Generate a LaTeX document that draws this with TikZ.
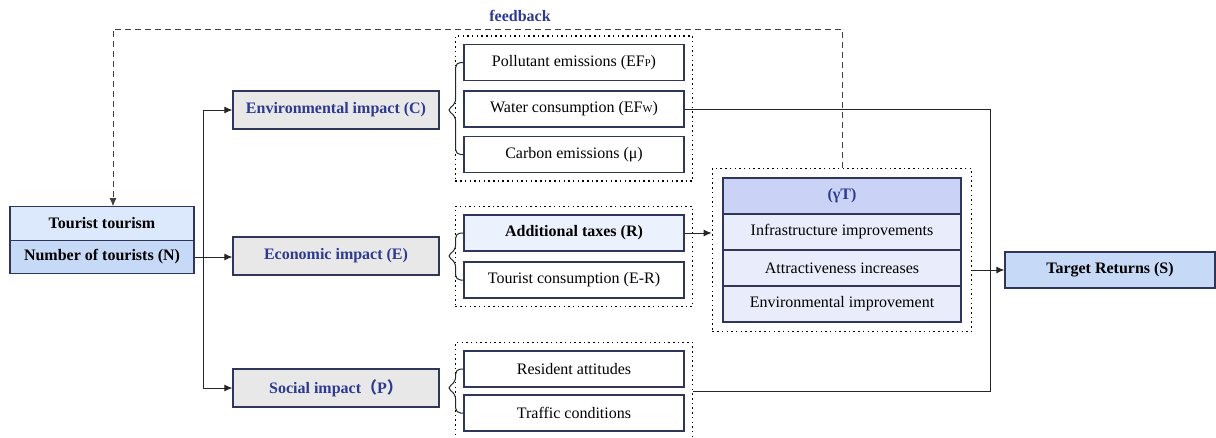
\documentclass[tikz,border=0pt]{standalone}
\usepackage{fontspec}
\setmainfont{Liberation Serif}
\newfontfamily\cjk{Noto Sans CJK SC}
\usepackage{tikz}
\usetikzlibrary{calc}
\usetikzlibrary{fit}
\usetikzlibrary{arrows.meta}
\definecolor{boxline}{HTML}{2F3659}
\definecolor{titleblue}{HTML}{2E3A8F}
\definecolor{impactgray}{HTML}{E8E8E8}
\definecolor{lightblue}{HTML}{DCE8FC}
\definecolor{midblue}{HTML}{C6D9F7}
\definecolor{taxblue}{HTML}{EBF2FE}
\definecolor{gammablue}{HTML}{CAD3F6}
\definecolor{rowblue}{HTML}{E9EDFB}
\newcommand{\basefont}{\fontsize{16}{19}\selectfont}
\tikzset{
	% Boxes: impact boxes, item boxes and the rows of the (gamma T) stack
	impact box/.style={draw=boxline,fill=impactgray,line width=1.2pt,minimum width=206pt,minimum height=38pt,text=titleblue,font=\basefont\bfseries},
	item box/.style={draw=boxline,fill=white,line width=1.2pt,minimum width=220pt,minimum height=36pt},
	row box/.style={draw=boxline,fill=rowblue,line width=1.2pt,minimum width=238pt,minimum height=36pt},
	% Dotted frames round each group of boxes
	dotted frame/.style={draw,dash pattern=on 1.5pt off 3.2pt,line width=1.5pt,inner sep=8pt},
	link/.style={line width=1pt,draw=black!85},
	arrow link/.style={link,-{Latex[length=8pt,width=7pt]}}
}

\begin{document}
\begin{tikzpicture}[x=1pt,y=-1pt,font=\basefont]
	% macro for the braces between an impact box and its items
	\newcommand{\joinbrace}[3]{\draw[link,rounded corners=5pt] (#1.west) -| ($(#3.east)+(16,-6)$) -- ($(#3.east)+(7,0)$) -- ($(#3.east)+(16,6)$) |- (#2.west);}
	\useasboundingbox (0,0) rectangle (1216,437);
	
	% source
	\node(tour)[draw=boxline,fill=lightblue,line width=1.2pt,minimum width=184pt,minimum height=33.5pt,font=\basefont\bfseries] at (102,223.5){Tourist tourism};
	\node(num)[draw=boxline,fill=midblue,line width=1.2pt,minimum width=184pt,minimum height=33.5pt,font=\basefont\bfseries] at (102,257){Number of tourists (N)};
	
	% impacts
	\node(env)[impact box] at (336,110){Environmental impact (C)};
	\node(eco)[impact box] at (336,256){Economic impact (E)};
	\node(soc)[impact box] at (336,388){Social impact{\cjk（}P{\cjk）}};
	
	% items
	\node(pol)[item box] at (574,62.5){Pollutant emissions (EF{\fontsize{10.5}{10}\selectfont P})};
	\node(wat)[item box] at (574,109){Water consumption (EF{\fontsize{10.5}{10}\selectfont W})};
	\node(car)[item box] at (574,154.5){Carbon emissions (μ)};
	\node(tax)[item box,fill=taxblue,font=\basefont\bfseries] at (574,233){Additional taxes (R)};
	\node(con)[item box] at (574,280){Tourist consumption (E-R)};
	\node(res)[item box] at (574,369){Resident attitudes};
	\node(tra)[item box] at (574,413){Traffic conditions};
	
	% (gamma T) stack
	\node(gam)[row box,fill=gammablue,text=titleblue,font=\basefont\bfseries] at (842,196){(γT)};
	\node(inf)[row box] at (842,232){Infrastructure improvements};
	\node(att)[row box] at (842,268){Attractiveness increases};
	\node(imp)[row box] at (842,304){Environmental improvement};
	
	\node(tgt)[draw=boxline,fill=midblue,line width=1.2pt,minimum width=210pt,minimum height=36pt,font=\basefont\bfseries] at (1110,270){Target Returns (S)};
	
	% frames
	\node(env-frame)[dotted frame,fit=(pol)(car)]{};
	\node(eco-frame)[dotted frame,fit=(tax)(con)]{};
	\node(soc-frame)[dotted frame,fit=(res)(tra)]{};
	\node(mid-frame)[dotted frame,inner xsep=10pt,inner ysep=9pt,fit=(gam)(imp)]{};
	
	% connectors
	\coordinate(split) at (203,257);
	\draw[arrow link] (num.east) -- (num.east -| eco.west);
	\draw[arrow link] (split) |- (env.west);
	\draw[arrow link] (split) |- (soc.west);
	
	\joinbrace{pol}{car}{env}
	\joinbrace{tax}{con}{eco}
	\joinbrace{res}{tra}{soc}
	
	\draw[arrow link] (tax.east) -- (tax.east -| mid-frame.west);
	
	\coordinate(join) at (990,270);
	\draw[link] (wat.east) -| (join);
	\draw[link] (soc-frame.east) -| (join);
	\draw[arrow link] (mid-frame.east |- join) -- (tgt.west);
	
	% feedback loop
	\coordinate(fb-top) at (113,29);
	\draw[arrow link,line width=0.8pt,dash pattern=on 6pt off 4pt,draw=black!75] (mid-frame.north) |- (fb-top) -- (fb-top |- tour.north);
	\node(fb-label)[text=titleblue,font=\basefont\bfseries] at (520,16){feedback};
\end{tikzpicture}
\end{document}
